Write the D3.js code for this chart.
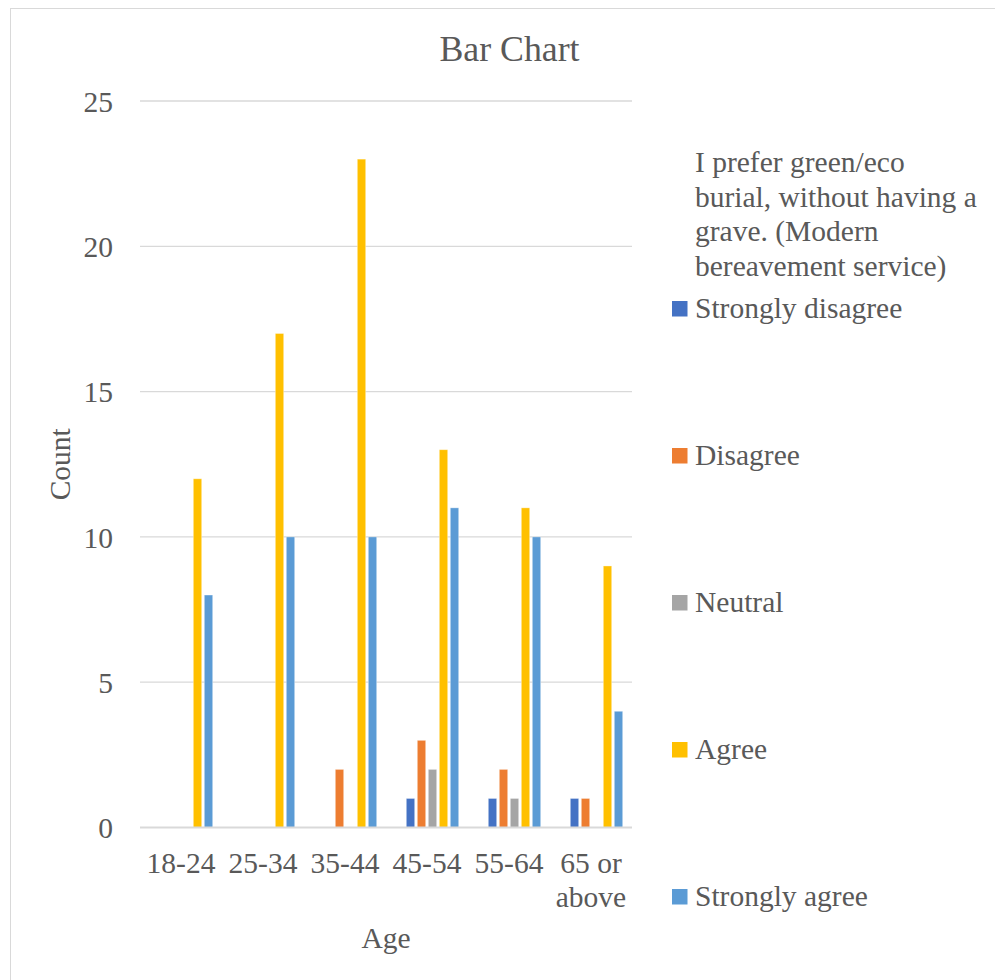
<!DOCTYPE html>
<html>
<head>
<meta charset="utf-8">
<script src="https://cdn.jsdelivr.net/npm/d3@7"></script>
<style>
  html, body { margin: 0; padding: 0; background: #fff; }
  svg { display: block; }
  svg text { font-family: 'Liberation Serif', 'Times New Roman', Times, 'DejaVu Serif', serif; }
</style>
</head>
<body>
<svg id="chart" width="995" height="980"></svg>
<script>
// Age groups on the x axis
const ageGroups = ["18-24", "25-34", "35-44", "45-54", "55-64", "65 or above"];

// Response categories (legend order)
const responses = ["Strongly disagree", "Disagree", "Neutral", "Agree", "Strongly agree"];
const responseColors = ["#4472C4", "#ED7D31", "#A5A5A5", "#FFC000", "#5B9BD5"];

// Counts per response, one value per age group
const stronglyDisagree = [0, 0, 0, 1, 1, 1];
const disagree         = [0, 0, 2, 3, 2, 1];
const neutral          = [0, 0, 0, 2, 1, 0];
const agree            = [12, 17, 23, 13, 11, 9];
const stronglyAgree    = [8, 10, 10, 11, 10, 4];

const yTicks = [0, 5, 10, 15, 20, 25];
const legendTitle = ["I prefer green/eco", "burial, without having a", "grave. (Modern", "bereavement service)"];

const seriesValues = [stronglyDisagree, disagree, neutral, agree, stronglyAgree];
// Each cluster reserves one leading empty slot before the five response bars
const slotKeys = ["(blank)"].concat(responses);

const FONT = "'Liberation Serif', 'Times New Roman', Times, 'DejaVu Serif', serif";
const FS = 29.5;
const svg = d3.select("#chart").attr("font-family", FONT);
const textColor = "#595959";
const gridColor = "#d9d9d9";

// Outer frame
svg.append("rect")
  .attr("x", 10.5).attr("y", 8.5)
  .attr("width", 1000).attr("height", 1000)
  .attr("fill", "none").attr("stroke", gridColor).attr("stroke-width", 1);

const plot = { left: 140, right: 632, top: 101, bottom: 827.5 };

const x0 = d3.scaleBand()
  .domain(ageGroups)
  .range([plot.left, plot.right])
  .paddingInner(0.195)
  .paddingOuter(0.0975);

const x1 = d3.scaleBand()
  .domain(slotKeys)
  .range([0, x0.bandwidth()])
  .paddingInner(0.236)
  .paddingOuter(0.118);

const y = d3.scaleLinear().domain([0, 25]).range([plot.bottom, plot.top]);

// Gridlines
svg.append("g")
  .selectAll("line")
  .data(yTicks.filter(t => t > 0))
  .join("line")
  .attr("x1", plot.left).attr("x2", plot.right)
  .attr("y1", d => y(d)).attr("y2", d => y(d))
  .attr("stroke", gridColor).attr("stroke-width", 1.3);

// Y tick labels
svg.append("g")
  .selectAll("text")
  .data(yTicks)
  .join("text")
  .attr("x", 113)
  .attr("y", d => y(d))
  .attr("dy", "0.36em")
  .attr("text-anchor", "end")
  .attr("fill", textColor)
  .attr("font-family", FONT)
  .attr("font-size", FS)
  .text(d => d);

// Bars
const bars = [];
ageGroups.forEach((g, gi) => {
  responses.forEach((r, ri) => {
    bars.push({ group: g, response: r, value: seriesValues[ri][gi], color: responseColors[ri] });
  });
});

svg.append("g")
  .selectAll("rect")
  .data(bars.filter(d => d.value > 0))
  .join("rect")
  .attr("x", d => x0(d.group) + x1(d.response))
  .attr("width", x1.bandwidth())
  .attr("y", d => y(d.value))
  .attr("height", d => y(0) - y(d.value))
  .attr("fill", d => d.color)
  .attr("stroke", "#ffffff")
  .attr("stroke-opacity", 0.45)
  .attr("stroke-width", 0.8);

// X axis line
svg.append("line")
  .attr("x1", plot.left).attr("x2", plot.right)
  .attr("y1", plot.bottom).attr("y2", plot.bottom)
  .attr("stroke", gridColor).attr("stroke-width", 2);

// X tick labels (long label wraps onto two lines)
const xLabels = svg.append("g")
  .selectAll("text")
  .data(ageGroups)
  .join("text")
  .attr("x", d => x0(d) + x0.bandwidth() / 2)
  .attr("y", 873)
  .attr("text-anchor", "middle")
  .attr("fill", textColor)
  .attr("font-family", FONT)
  .attr("font-size", FS);

xLabels.each(function (d) {
  const el = d3.select(this);
  const cx = x0(d) + x0.bandwidth() / 2;
  const words = d === "65 or above" ? ["65 or", "above"] : [d];
  words.forEach((w, i) => {
    el.append("tspan").attr("x", cx).attr("dy", i === 0 ? 0 : 33.5).text(w);
  });
});

// Axis titles
svg.append("text")
  .attr("x", (plot.left + plot.right) / 2)
  .attr("y", 948)
  .attr("text-anchor", "middle")
  .attr("fill", textColor)
  .attr("font-family", FONT)
  .attr("font-size", FS)
  .text("Age");

svg.append("text")
  .attr("transform", `translate(70,${(plot.top + plot.bottom) / 2}) rotate(-90)`)
  .attr("text-anchor", "middle")
  .attr("fill", textColor)
  .attr("font-family", FONT)
  .attr("font-size", FS)
  .text("Count");

// Chart title
svg.append("text")
  .attr("x", 509.5)
  .attr("y", 61)
  .attr("text-anchor", "middle")
  .attr("fill", textColor)
  .attr("font-family", FONT)
  .attr("font-size", 35.8)
  .text("Bar Chart");

// Legend
const legend = svg.append("g");
legend.selectAll("text.title")
  .data(legendTitle)
  .join("text")
  .attr("class", "title")
  .attr("x", 695)
  .attr("y", (d, i) => 172 + i * 34.5)
  .attr("fill", textColor)
  .attr("font-family", FONT)
  .attr("font-size", FS)
  .text(d => d);

const legendY = d3.scalePoint().domain(responses).range([318, 906]);

const items = legend.selectAll("g.item")
  .data(responses)
  .join("g")
  .attr("class", "item");

items.append("rect")
  .attr("x", 672)
  .attr("y", d => legendY(d) - 17)
  .attr("width", 15.5)
  .attr("height", 15.5)
  .attr("fill", (d, i) => responseColors[i]);

items.append("text")
  .attr("x", 695)
  .attr("y", d => legendY(d))
  .attr("fill", textColor)
  .attr("font-family", FONT)
  .attr("font-size", FS)
  .text(d => d);
</script>
</body>
</html>
